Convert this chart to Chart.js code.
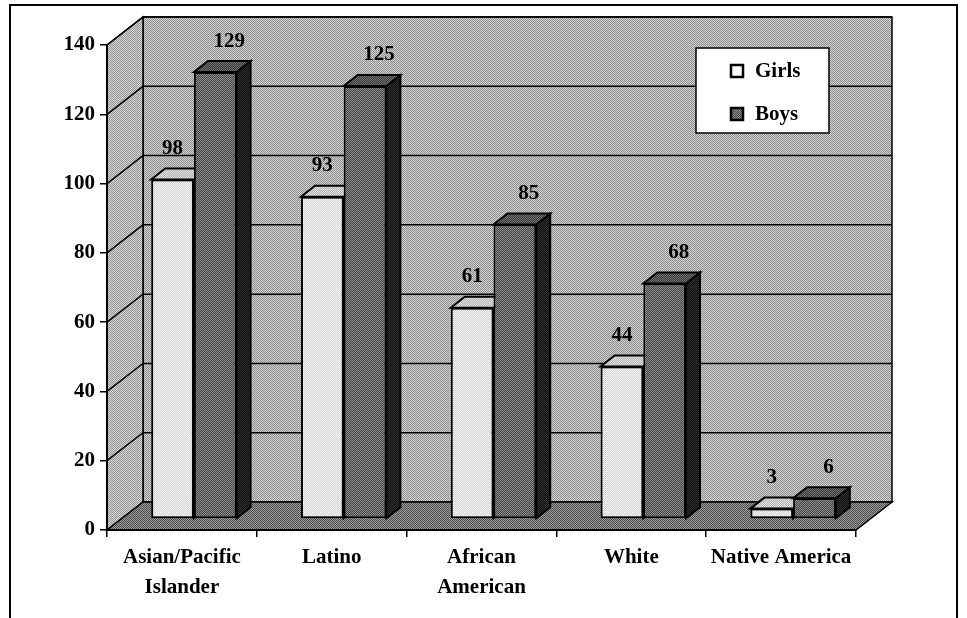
<!DOCTYPE html>
<html>
<head>
<meta charset="utf-8">
<script src="https://cdn.jsdelivr.net/npm/chart.js@4.4.0/dist/chart.umd.min.js"></script>
<style>
  html, body { margin: 0; padding: 0; background: #fff; }
  #wrap { width: 967px; height: 618px; }
</style>
</head>
<body>
<div id="wrap"><canvas id="chart" width="967" height="618"></canvas></div>
<script>
// ---- data ----
const categories = [['Asian/Pacific', 'Islander'], 'Latino', ['African', 'American'], 'White', 'Native America'];
const girls = [98, 93, 61, 44, 3];
const boys = [129, 125, 85, 68, 6];
const seriesNames = ['Girls', 'Boys'];
const yTicks = [0, 20, 40, 60, 80, 100, 120, 140];

// ---- 3D look ----
const WALL_DX = 36, WALL_DY = -28;   // depth of the back wall
const BAR_DX = 12, BAR_DY = -11;     // bars stand a bit into the floor
const DEPTH_DX = 14, DEPTH_DY = -11; // depth of each bar
const SERIF = '"Liberation Serif", "Times New Roman", serif';

const canvas = document.getElementById('chart');
const ctx = canvas.getContext('2d');

// 2x2 dither, looks like the halftone of the scan
function dither(a, b) {
  const c = document.createElement('canvas');
  c.width = 2; c.height = 2;
  const g = c.getContext('2d');
  g.fillStyle = a; g.fillRect(0, 0, 2, 2);
  g.fillStyle = b; g.fillRect(0, 0, 1, 1); g.fillRect(1, 1, 1, 1);
  return ctx.createPattern(c, 'repeat');
}

const fills = {
  backWall: dither('#d2d2d2', '#8e8e8e'),
  sideWall: dither('#d6d6d6', '#949494'),
  floor: dither('#9c9c9c', '#4c4c4c'),
  front: [dither('#f6f6f6', '#d2d2d2'), dither('#8c8c8c', '#464646')],
  top: [dither('#e2e2e2', '#b2b2b2'), dither('#747474', '#363636')],
  side: [dither('#c0c0c0', '#909090'), dither('#323232', '#0e0e0e')]
};
const labelShift = [0, DEPTH_DX];

function poly(c, pts) {
  c.beginPath();
  c.moveTo(pts[0][0], pts[0][1]);
  for (let i = 1; i < pts.length; i++) c.lineTo(pts[i][0], pts[i][1]);
  c.closePath();
  c.fill();
  c.stroke();
}

const wallsPlugin = {
  id: 'walls',
  beforeDraw(chart) {
    const c = chart.ctx;
    const { left, right, top, bottom } = chart.chartArea;
    const ys = chart.scales.y;
    c.save();
    c.strokeStyle = '#000';
    c.lineWidth = 1.5;
    // back wall
    c.fillStyle = fills.backWall;
    poly(c, [[left + WALL_DX, top + WALL_DY], [right + WALL_DX, top + WALL_DY],
             [right + WALL_DX, bottom + WALL_DY], [left + WALL_DX, bottom + WALL_DY]]);
    // left wall
    c.fillStyle = fills.sideWall;
    poly(c, [[left, top], [left + WALL_DX, top + WALL_DY],
             [left + WALL_DX, bottom + WALL_DY], [left, bottom]]);
    // floor
    c.fillStyle = fills.floor;
    poly(c, [[left, bottom], [right, bottom],
             [right + WALL_DX, bottom + WALL_DY], [left + WALL_DX, bottom + WALL_DY]]);
    // grid lines
    c.beginPath();
    yTicks.forEach(v => {
      if (v === 0) return;
      const y = ys.getPixelForValue(v);
      c.moveTo(left, y);
      c.lineTo(left + WALL_DX, y + WALL_DY);
      c.lineTo(right + WALL_DX, y + WALL_DY);
    });
    c.stroke();
    c.restore();
  },
  beforeDatasetsDraw(chart) {
    const c = chart.ctx;
    c.save();
    c.translate(BAR_DX, BAR_DY);
    // value labels first, so taller bars hide them like in the original
    c.fillStyle = '#000';
    c.font = 'bold 21px ' + SERIF;
    c.textAlign = 'center';
    c.textBaseline = 'middle';
    chart.data.datasets.forEach((ds, i) => {
      chart.getDatasetMeta(i).data.forEach((el, j) => {
        c.fillText(String(ds.data[j]), el.x + labelShift[i], el.y - 31);
      });
    });
    // top and side faces, left to right
    c.strokeStyle = '#000';
    c.lineWidth = 2;
    categories.forEach((cat, j) => {
      chart.data.datasets.forEach((ds, i) => {
        const el = chart.getDatasetMeta(i).data[j];
        const x0 = el.x - el.width / 2, x1 = el.x + el.width / 2;
        const yt = el.y, yb = el.base;
        c.fillStyle = fills.side[i];
        poly(c, [[x1, yt], [x1 + DEPTH_DX, yt + DEPTH_DY], [x1 + DEPTH_DX, yb + DEPTH_DY], [x1, yb]]);
        c.fillStyle = fills.top[i];
        poly(c, [[x0, yt], [x0 + DEPTH_DX, yt + DEPTH_DY], [x1 + DEPTH_DX, yt + DEPTH_DY], [x1, yt]]);
      });
    });
    // keep the shift for the front faces drawn by Chart.js
  },
  afterDatasetsDraw(chart) {
    chart.ctx.restore();
  },
  afterDraw(chart) {
    const c = chart.ctx;
    c.save();
    // legend box
    c.fillStyle = '#fff';
    c.strokeStyle = '#000';
    c.lineWidth = 1.5;
    c.fillRect(696, 48, 133, 85);
    c.strokeRect(696, 48, 133, 85);
    c.font = 'bold 21px ' + SERIF;
    c.textAlign = 'left';
    c.textBaseline = 'middle';
    chart.data.datasets.forEach((ds, i) => {
      const y = 71 + i * 43;
      c.fillStyle = i === 0 ? '#fff' : fills.front[1];
      c.lineWidth = 2.5;
      c.fillRect(731, y - 6, 12, 12);
      c.strokeRect(731, y - 6, 12, 12);
      c.fillStyle = '#000';
      c.fillText(ds.label, 755, y + 1);
    });
    // outer frame
    c.lineWidth = 2;
    c.strokeRect(10, 5, 947, 640);
    c.restore();
  }
};

new Chart(canvas, {
  type: 'bar',
  data: {
    labels: categories,
    datasets: seriesNames.map((name, i) => ({
      label: name,
      data: i === 0 ? girls : boys,
      backgroundColor: fills.front[i],
      borderColor: '#000',
      borderWidth: 2,
      borderSkipped: false
    }))
  },
  options: {
    responsive: false,
    animation: false,
    events: [],
    layout: { padding: { top: 45, right: 111, left: 0, bottom: 0 } },
    datasets: { bar: { categoryPercentage: 0.57, barPercentage: 1 } },
    plugins: { legend: { display: false }, tooltip: { enabled: false } },
    scales: {
      x: {
        afterFit: s => { s.height = 88; },
        grid: { offset: true, drawOnChartArea: false, tickLength: 7, color: '#000', lineWidth: 1.5 },
        border: { display: true, color: '#000', width: 2 },
        ticks: {
          color: '#000',
          padding: 6,
          maxRotation: 0,
          autoSkip: false,
          font: { family: SERIF, size: 21, weight: 'bold', lineHeight: 1.4 }
        }
      },
      y: {
        min: 0,
        max: 140,
        afterFit: s => { s.width = 107; },
        afterBuildTicks: s => { s.ticks = yTicks.map(v => ({ value: v })); },
        grid: { drawOnChartArea: false, tickLength: 7, color: '#000', lineWidth: 1.5 },
        border: { display: true, color: '#000', width: 2 },
        ticks: {
          color: '#000',
          padding: 5,
          font: { family: SERIF, size: 21, weight: 'bold' }
        }
      }
    }
  },
  plugins: [wallsPlugin]
});
</script>
</body>
</html>
